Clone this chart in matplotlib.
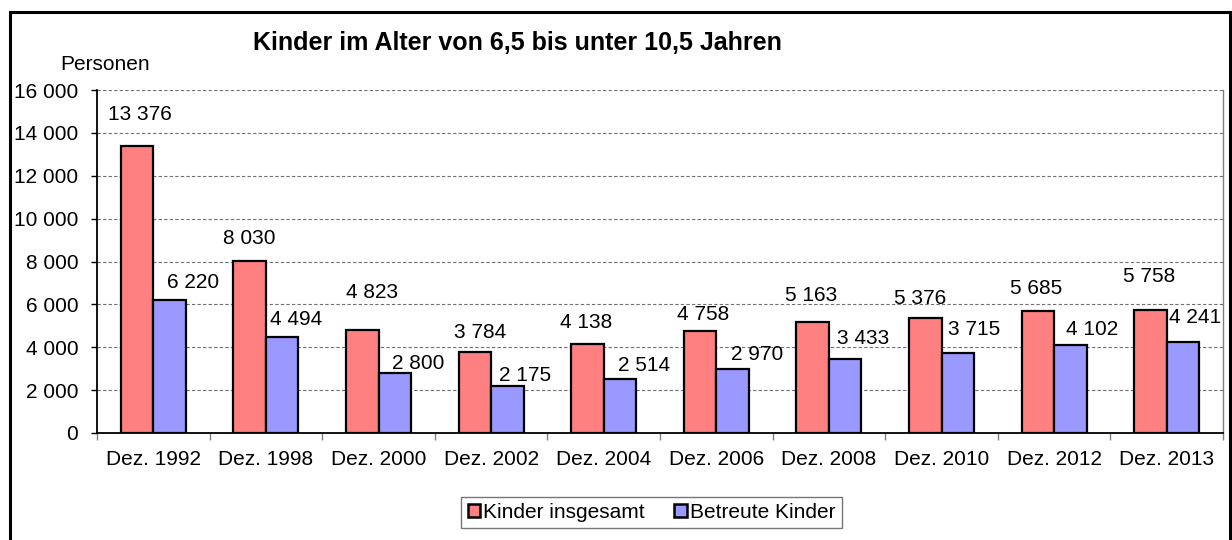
import matplotlib
matplotlib.use("Agg")
import matplotlib.pyplot as plt
from matplotlib.patches import Rectangle
import numpy as np

plt.rcParams['font.family'] = ['Liberation Sans', 'DejaVu Sans']

categories = ["Dez. 1992", "Dez. 1998", "Dez. 2000", "Dez. 2002", "Dez. 2004",
              "Dez. 2006", "Dez. 2008", "Dez. 2010", "Dez. 2012", "Dez. 2013"]
kinder_insgesamt = [13376, 8030, 4823, 3784, 4138, 4758, 5163, 5376, 5685, 5758]
betreute_kinder = [6220, 4494, 2800, 2175, 2514, 2970, 3433, 3715, 4102, 4241]
y_ticks = [0, 2000, 4000, 6000, 8000, 10000, 12000, 14000, 16000]

title = "Kinder im Alter von 6,5 bis unter 10,5 Jahren"
y_label = "Personen"
series_names = ["Kinder insgesamt", "Betreute Kinder"]

# label placement nudges (points): (dx, dy above bar top)
nudge_red = [(2, 23), (0, 16), (7, 27), (4, 14), (-1, 16),
             (2, 12), (-1, 19), (-4, 14), (-1, 16), (-1, 24)]
nudge_blue = [(17, 12), (10, 12), (17, 7), (13, 8), (17, 10),
              (18, 11), (13, 15), (12, 17), (16, 11), (9, 18)]

RED = "#FF8080"
BLUE = "#9999FF"
FS = 15


def fmt(v):
    return f"{v:,}".replace(",", " ")


W, H = 1232, 540
fig = plt.figure(figsize=(W / 100, H / 100), dpi=100)
ax = fig.add_axes([97 / W, 1 - 433 / H, (1223 - 97) / W, (433 - 90) / H])

x = np.arange(len(categories))
bw = 0.289
ax.bar(x - bw / 2, kinder_insgesamt, bw, color=RED, edgecolor="black",
       linewidth=1.6, label=series_names[0], zorder=3)
ax.bar(x + bw / 2, betreute_kinder, bw, color=BLUE, edgecolor="black",
       linewidth=1.6, label=series_names[1], zorder=3)

for i, (r, b) in enumerate(zip(kinder_insgesamt, betreute_kinder)):
    ax.annotate(fmt(r), (x[i] - bw / 2, r), xytext=nudge_red[i],
                textcoords="offset points", ha="center", va="center",
                fontsize=FS, zorder=4)
    ax.annotate(fmt(b), (x[i] + bw / 2, b), xytext=nudge_blue[i],
                textcoords="offset points", ha="center", va="center",
                fontsize=FS, zorder=4)

ax.set_xlim(-0.5, len(categories) - 0.5)
ax.set_ylim(0, 16000)
ax.set_yticks(y_ticks)
ax.set_yticklabels([fmt(v) for v in y_ticks], fontsize=FS)
ax.set_xticks(x)
ax.set_xticklabels(categories, fontsize=FS)
ax.tick_params(axis="x", length=0, pad=12)
ax.set_xticks(np.arange(len(categories) + 1) - 0.5, minor=True)
ax.tick_params(axis="x", which="minor", length=5, width=1, color="#808080")
ax.tick_params(axis="y", length=4.5, width=1, pad=9, color="black")

ax.yaxis.grid(True, linestyle=(0, (3, 2)), linewidth=0.8, color="#707070", zorder=0)
ax.set_axisbelow(True)

ax.spines["top"].set_visible(False)
ax.spines["right"].set_color("#808080")
ax.spines["right"].set_linewidth(1)
ax.spines["left"].set_linewidth(1.3)
ax.spines["bottom"].set_linewidth(1.3)

fig.text(517 / W, 1 - 43 / H, title, ha="center", va="center",
         fontsize=18, fontweight="bold")
fig.text(60 / W, 1 - 65 / H, y_label, ha="left", va="center", fontsize=FS)

leg = ax.legend(loc="center", bbox_to_anchor=(651.5 / W, 1 - 512.5 / H),
                bbox_transform=fig.transFigure, ncol=2, fontsize=FS,
                frameon=True, fancybox=False, edgecolor="#555555",
                handlelength=0.6, handleheight=0.6, handletextpad=0.15,
                columnspacing=1.4, borderpad=0.3, borderaxespad=0)
leg.get_frame().set_linewidth(1)
for h in leg.legend_handles:
    h.set_linewidth(1.8)

# outer chart frame
fig.patches.append(Rectangle((10 / W, -0.1), (1230 - 10) / W, 1.1 - 12 / H,
                             transform=fig.transFigure, fill=False,
                             edgecolor="black", linewidth=2.2))

fig.savefig("out.png", dpi=100)
